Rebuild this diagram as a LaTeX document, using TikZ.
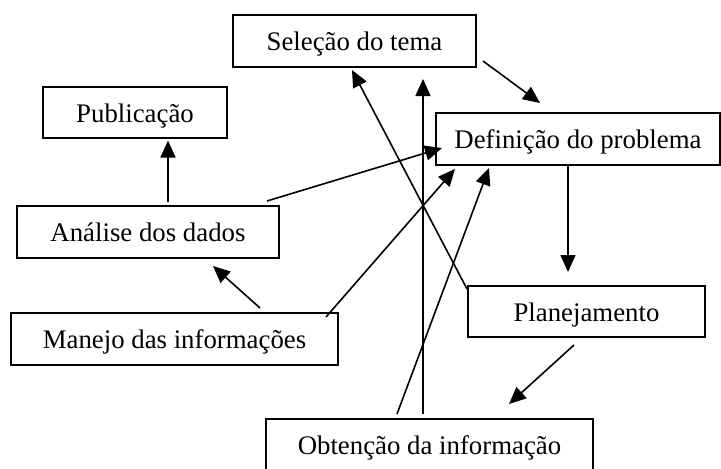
\documentclass[tikz,border=0pt]{standalone}
\usepackage{fontspec}
\setmainfont{Liberation Serif}
\usetikzlibrary{arrows.meta,calc}
\begin{document}
\begin{tikzpicture}[x=1pt,y=-1pt,
  box/.style={draw,line width=2pt,inner sep=0pt,text height=25pt,text depth=6pt,
    font=\fontsize{26.8}{30}\selectfont},
  arr/.style={line width=1.6pt,-{Triangle[length=17pt,width=15pt]}}]
\useasboundingbox (0,0) rectangle (721,469);
\clip (0,0) rectangle (721,469);
\fill[white] (0,0) rectangle (721,469);
\node[box,minimum width=243pt,minimum height=52pt] (sel) at (354.5,41) {Seleção do tema};
\node[box,minimum width=184pt,minimum height=51pt] (pub) at (135,112.5) {Publicação};
\node[box,minimum width=284pt,minimum height=52pt] (def) at (578,139) {Definição do problema};
\node[box,minimum width=262pt,minimum height=52pt] (ana) at (148,232) {Análise dos dados};
\node[box,minimum width=327pt,minimum height=52pt] (man) at (174.5,339) {Manejo das informações};
\node[box,minimum width=237pt,minimum height=51pt] (pla) at (586.5,311.5) {Planejamento};
\node[box,minimum width=327pt,minimum height=52pt] (obt) at (429.5,445) {Obtenção da informação};
\draw[arr] ($(ana.north)+(20,-3)$) -- ($(pub.south)+(33,1.5)$);
\draw[arr] ($(sel.south east)+(6,-7)$) -- ($(def.north west)+(105,-9)$);
\draw[arr] ($(ana.north east)+(-13,-4)$) -- ($(def.west)+(7,9)$);
\draw[arr] ($(man.north)+(85.5,-4)$) -- ($(ana.south)+(65,7)$);
\draw[arr] ($(man.north east)+(-13,5)$) -- ($(def.south west)+(20,3)$);
\draw[arr] ($(obt.north)+(-32.5,-4)$) -- ($(def.south west)+(54,2)$);
\draw[arr] ($(obt.north)+(-6.5,-4)$) -- ($(sel.south)+(68.5,11)$);
\draw[arr] ($(pla.north west)+(0,4)$) -- ($(sel.south)+(-2.5,2)$);
\draw[arr] ($(def.south)+(-10,0)$) -- ($(pla.north)+(-18.5,-13)$);
\draw[arr] ($(pla.south)+(-12.5,7)$) -- ($(obt.north)+(79.5,-14)$);
\end{tikzpicture}
\end{document}
